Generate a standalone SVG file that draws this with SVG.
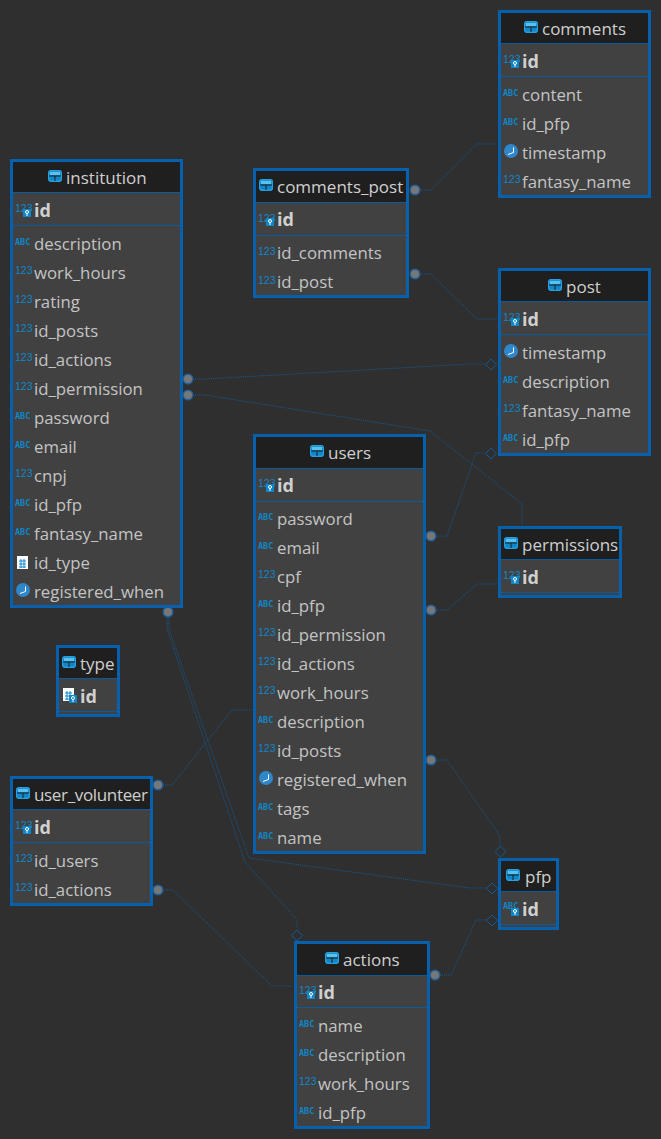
<svg xmlns="http://www.w3.org/2000/svg" width="661" height="1139" viewBox="0 0 661 1139">
<style>
text{font-family:"Open Sans","Noto Sans","Liberation Sans",sans-serif;fill:#c4c4c4}
.f{font-size:16.8px}
.h{font-size:17px;fill:#cfcfcf}
.k{font-size:18px;font-weight:700;fill:#d0d0d0}
.n{font-size:10.500px;font-family:"Liberation Sans",sans-serif;fill:#0f86c8}
.a{font-size:8.500px;font-weight:700;font-family:"DejaVu Sans Mono",monospace;fill:#0f86c8}
.b{fill:#414141;stroke:none}
.o{fill:none;stroke:#0561ad;stroke-width:3}
.t{fill:#1f1f1f}
.s{stroke:#0a5a9c;stroke-width:1}
.c{fill:none;stroke:#125a96;stroke-width:1;stroke-dasharray:1 1}
.d{fill:#777;stroke:#1e5f99;stroke-width:1.500}
.m{fill:#2f2f2f;stroke:#125a96;stroke-width:1}
</style>
<defs>
<g id="ti"><rect x="0.700" y="0.700" width="12.600" height="10.600" rx="2" fill="#0f86c8" stroke="#27a0e0" stroke-width="1.400"/><rect x="2" y="2" width="10" height="3" fill="#5cc0ec"/><path d="M1 6H13M7 6V11" stroke="#1f1f1f" stroke-width="1" fill="none"/></g>
<g id="ki"><rect x="0" y="0" width="8" height="8" fill="#0f86c8"/><circle cx="4" cy="3" r="1.500" fill="none" stroke="#fff"/><path d="M4 4.500V7" stroke="#fff"/></g>
<g id="cl"><circle cx="7" cy="7" r="7" fill="#2f86c8"/><path d="M9.500 3.500V8.500L4 10.500" stroke="#fff" fill="none"/></g>
<g id="gr"><rect x="0" y="0" width="11" height="13" fill="#fff"/><path d="M2 5H9M2 8H9M2 11H9M4 3V12M7 3V12" stroke="#0f86c8" stroke-width="1"/></g>
</defs>
<rect width="661" height="1139" fill="#2f2f2f"/>
<g id="connectors">
<path class="c" d="M420 190H431L477 144H497"/>
<path class="c" d="M420 274H431L477 319H497"/>
<path class="c" d="M193 379H205L470 364H485"/>
<path class="c" d="M193 395H205L430 431L522 504V525"/>
<path class="c" d="M436 536H447L476 453H485"/>
<path class="c" d="M436 610H447L477 584H497"/>
<path class="c" d="M436 760H447L500 836V846"/>
<path class="c" d="M167 617V629L245 862L297 920V928"/>
<path class="c" d="M169 617V629L249 858L470 888H486"/>
<path class="c" d="M163 785H172L232 710H252"/>
<path class="c" d="M163 890H173L272 986H292"/>
<path class="c" d="M440 975H451L476 920H486"/>
<path class="m" d="M491 359l5.500 5.500l-5.500 5.500l-5.500-5.500z"/>
<path class="m" d="M491 448l5.500 5.500l-5.500 5.500l-5.500-5.500z"/>
<path class="m" d="M500.500 846l5.500 5.500l-5.500 5.500l-5.500-5.500z"/>
<path class="m" d="M492 883l5.500 5.500l-5.500 5.500l-5.500-5.500z"/>
<path class="m" d="M492 915l5.500 5.500l-5.500 5.500l-5.500-5.500z"/>
<path class="m" d="M297 930l5.500 5.500l-5.500 5.500l-5.500-5.500z"/>
<circle class="d" cx="415" cy="190" r="4.800"/>
<circle class="d" cx="415" cy="274" r="4.800"/>
<circle class="d" cx="188" cy="379" r="4.800"/>
<circle class="d" cx="188" cy="395" r="4.800"/>
<circle class="d" cx="431" cy="536" r="4.800"/>
<circle class="d" cx="431" cy="610" r="4.800"/>
<circle class="d" cx="431" cy="760" r="4.800"/>
<circle class="d" cx="168" cy="612" r="4.800"/>
<circle class="d" cx="158" cy="785" r="4.800"/>
<circle class="d" cx="158" cy="890" r="4.800"/>
<circle class="d" cx="435" cy="975" r="4.800"/>
</g>
<g id="comments">
<rect class="b" x="499" y="11" width="151" height="186"/><rect class="t" x="500" y="12" width="149" height="31"/>
<path class="s" d="M500 43.500H649M500 76.500H649"/><rect class="o" x="499.500" y="11.500" width="150" height="185"/>
<use href="#ti" x="524" y="21"/><text class="h" x="542" y="35">comments</text>
<text class="n" x="503" y="63">123</text><use href="#ki" x="511" y="60"/><text class="k" x="522" y="68">id</text>
<text class="a" x="503" y="96">ABC</text><text class="f" x="522" y="101">content</text>
<text class="a" x="503" y="125">ABC</text><text class="f" x="522" y="130">id_pfp</text>
<use href="#cl" x="504" y="144"/><text class="f" x="522" y="159">timestamp</text>
<text class="n" x="503" y="183">123</text><text class="f" x="522" y="188">fantasy_name</text>
</g>
<g id="comments_post">
<rect class="b" x="254" y="169" width="154" height="128"/><rect class="t" x="255" y="170" width="152" height="32"/>
<path class="s" d="M255 202.500H407M255 235.500H407"/><rect class="o" x="254.500" y="169.500" width="153" height="127"/>
<use href="#ti" x="259" y="179"/><text class="h" x="277" y="193">comments_post</text>
<text class="n" x="258" y="222">123</text><use href="#ki" x="266" y="218"/><text class="k" x="277" y="226">id</text>
<text class="n" x="258" y="255">123</text><text class="f" x="277" y="259">id_comments</text>
<text class="n" x="258" y="284">123</text><text class="f" x="277" y="288">id_post</text>
</g>
<g id="post">
<rect class="b" x="499" y="269" width="151" height="186"/><rect class="t" x="500" y="270" width="149" height="31"/>
<path class="s" d="M500 301.500H649M500 334.500H649"/><rect class="o" x="499.500" y="269.500" width="150" height="185"/>
<use href="#ti" x="548" y="279"/><text class="h" x="566" y="293">post</text>
<text class="n" x="503" y="321">123</text><use href="#ki" x="511" y="318"/><text class="k" x="522" y="326">id</text>
<use href="#cl" x="504" y="344"/><text class="f" x="522" y="359">timestamp</text>
<text class="a" x="503" y="383">ABC</text><text class="f" x="522" y="388">description</text>
<text class="n" x="503" y="412">123</text><text class="f" x="522" y="417">fantasy_name</text>
<text class="a" x="503" y="441">ABC</text><text class="f" x="522" y="446">id_pfp</text>
</g>
<g id="institution">
<rect class="b" x="11" y="160" width="171" height="447"/><rect class="t" x="12" y="161" width="169" height="31"/>
<path class="s" d="M12 192.500H181M12 225.500H181"/><rect class="o" x="11.500" y="160.500" width="170" height="446"/>
<use href="#ti" x="48" y="170"/><text class="h" x="66" y="184">institution</text>
<text class="n" x="15" y="212">123</text><use href="#ki" x="23" y="209"/><text class="k" x="34" y="217">id</text>
<text class="a" x="15" y="245">ABC</text><text class="f" x="34" y="250">description</text>
<text class="n" x="15" y="274">123</text><text class="f" x="34" y="279">work_hours</text>
<text class="n" x="15" y="303">123</text><text class="f" x="34" y="308">rating</text>
<text class="n" x="15" y="332">123</text><text class="f" x="34" y="337">id_posts</text>
<text class="n" x="15" y="361">123</text><text class="f" x="34" y="366">id_actions</text>
<text class="n" x="15" y="390">123</text><text class="f" x="34" y="395">id_permission</text>
<text class="a" x="15" y="419">ABC</text><text class="f" x="34" y="424">password</text>
<text class="a" x="15" y="448">ABC</text><text class="f" x="34" y="453">email</text>
<text class="n" x="15" y="477">123</text><text class="f" x="34" y="482">cnpj</text>
<text class="a" x="15" y="506">ABC</text><text class="f" x="34" y="511">id_pfp</text>
<text class="a" x="15" y="535">ABC</text><text class="f" x="34" y="540">fantasy_name</text>
<use href="#gr" x="17" y="556"/><text class="f" x="34" y="569">id_type</text>
<use href="#cl" x="16" y="583"/><text class="f" x="34" y="598">registered_when</text>
</g>
<g id="users">
<rect class="b" x="254" y="435" width="171" height="418"/><rect class="t" x="255" y="436" width="169" height="32"/>
<path class="s" d="M255 468.500H424M255 501.500H424"/><rect class="o" x="254.500" y="435.500" width="170" height="417"/>
<use href="#ti" x="310" y="445"/><text class="h" x="328" y="459">users</text>
<text class="n" x="258" y="487">123</text><use href="#ki" x="266" y="484"/><text class="k" x="277" y="492">id</text>
<text class="a" x="258" y="520">ABC</text><text class="f" x="277" y="525">password</text>
<text class="a" x="258" y="549">ABC</text><text class="f" x="277" y="554">email</text>
<text class="n" x="258" y="578">123</text><text class="f" x="277" y="583">cpf</text>
<text class="a" x="258" y="607">ABC</text><text class="f" x="277" y="612">id_pfp</text>
<text class="n" x="258" y="636">123</text><text class="f" x="277" y="641">id_permission</text>
<text class="n" x="258" y="665">123</text><text class="f" x="277" y="670">id_actions</text>
<text class="n" x="258" y="694">123</text><text class="f" x="277" y="699">work_hours</text>
<text class="a" x="258" y="723">ABC</text><text class="f" x="277" y="728">description</text>
<text class="n" x="258" y="752">123</text><text class="f" x="277" y="757">id_posts</text>
<use href="#cl" x="259" y="771"/><text class="f" x="277" y="786">registered_when</text>
<text class="a" x="258" y="810">ABC</text><text class="f" x="277" y="815">tags</text>
<text class="a" x="258" y="839">ABC</text><text class="f" x="277" y="844">name</text>
</g>
<g id="permissions">
<rect class="b" x="499" y="527" width="122" height="70"/><rect class="t" x="500" y="528" width="120" height="31"/>
<path class="s" d="M500 559.500H620M500 592.500H620"/><rect class="o" x="499.500" y="527.500" width="121" height="69"/>
<use href="#ti" x="504" y="537"/><text class="h" x="522" y="551">permissions</text>
<text class="n" x="503" y="579">123</text><use href="#ki" x="511" y="576"/><text class="k" x="522" y="584">id</text>
</g>
<g id="type">
<rect class="b" x="57" y="646" width="62" height="70"/><rect class="t" x="58" y="647" width="60" height="31"/>
<path class="s" d="M58 678.500H118M58 711.500H118"/><rect class="o" x="57.500" y="646.500" width="61" height="69"/>
<use href="#ti" x="62" y="656"/><text class="h" x="80" y="670">type</text>
<use href="#gr" x="63" y="688"/><use href="#ki" x="69" y="695"/><text class="k" x="80" y="703">id</text>
</g>
<g id="user_volunteer">
<rect class="b" x="11" y="777" width="141" height="128"/><rect class="t" x="12" y="778" width="139" height="31"/>
<path class="s" d="M12 809.500H151M12 842.500H151"/><rect class="o" x="11.500" y="777.500" width="140" height="127"/>
<use href="#ti" x="16" y="787"/><text class="h" x="34" y="801" textLength="114">user_volunteer</text>
<text class="n" x="15" y="829">123</text><use href="#ki" x="23" y="826"/><text class="k" x="34" y="834">id</text>
<text class="n" x="15" y="862">123</text><text class="f" x="34" y="867">id_users</text>
<text class="n" x="15" y="891">123</text><text class="f" x="34" y="896">id_actions</text>
</g>
<g id="pfp">
<rect class="b" x="499" y="859" width="59" height="70"/><rect class="t" x="500" y="860" width="57" height="31"/>
<path class="s" d="M500 891.500H557M500 924.500H557"/><rect class="o" x="499.500" y="859.500" width="58" height="69"/>
<use href="#ti" x="506" y="869"/><text class="h" x="525" y="883">pfp</text>
<text class="a" x="503" y="909">ABC</text><use href="#ki" x="511" y="908"/><text class="k" x="522" y="916">id</text>
</g>
<g id="actions">
<rect class="b" x="295" y="942" width="134" height="186"/><rect class="t" x="297" y="943" width="131" height="32"/>
<path class="s" d="M297 975.500H428M297 1007.500H428"/><rect class="o" x="295.500" y="942.500" width="133" height="185"/>
<use href="#ti" x="325" y="952"/><text class="h" x="343" y="966">actions</text>
<text class="n" x="299" y="994">123</text><use href="#ki" x="307" y="991"/><text class="k" x="318" y="999">id</text>
<text class="a" x="299" y="1027">ABC</text><text class="f" x="318" y="1032">name</text>
<text class="a" x="299" y="1056">ABC</text><text class="f" x="318" y="1061">description</text>
<text class="n" x="299" y="1085">123</text><text class="f" x="318" y="1090">work_hours</text>
<text class="a" x="299" y="1114">ABC</text><text class="f" x="318" y="1119">id_pfp</text>
</g>
</svg>
